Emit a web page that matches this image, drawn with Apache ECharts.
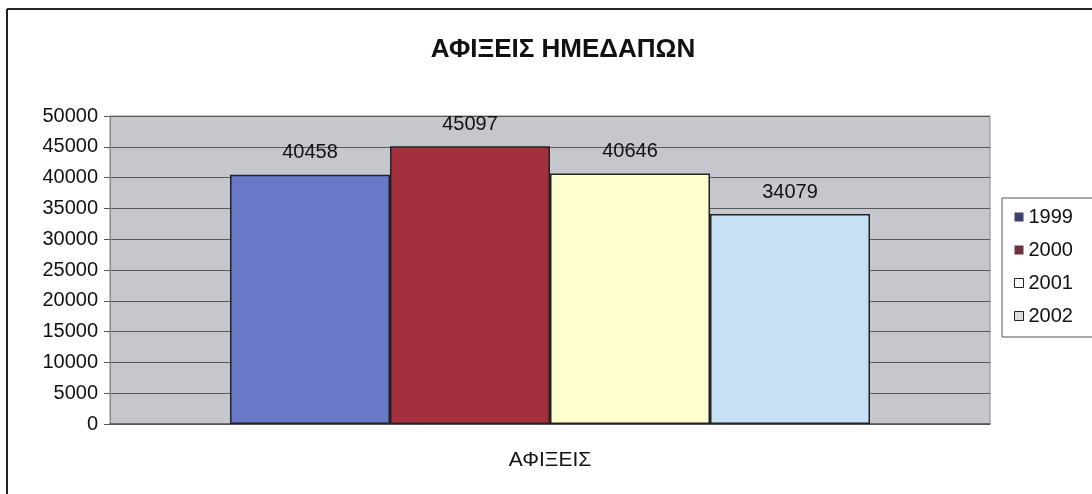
<!DOCTYPE html>
<html>
<head>
<meta charset="utf-8">
<title>ΑΦΙΞΕΙΣ ΗΜΕΔΑΠΩΝ</title>
<script src="https://cdn.jsdelivr.net/npm/echarts@6/dist/echarts.min.js"></script>
<style>
  html, body { margin: 0; padding: 0; background: #fff; }
  #chart { width: 1092px; height: 494px; }
</style>
</head>
<body>
<div id="chart"></div>
<script>
// data
var categories = ["ΑΦΙΞΕΙΣ"];
var years = ["1999", "2000", "2001", "2002"];
var arrivals = [40458, 45097, 40646, 34079];
var yTicks = { min: 0, max: 50000, interval: 5000 };

var barColors = ["#6a78c8", "#a3303f", "#ffffcf", "#c7e0f5"];
var legendColors = ["#3b3f6c", "#6a3340", "#ffffff", "#dcdcdc"];

var chart = echarts.init(document.getElementById("chart"));

var series = [];
years.map(function (y, i) {
  series.push({
    type: "bar",
    name: y,
    data: [arrivals[i]],
    barWidth: 160,
    barGap: "0%",
    itemStyle: {
      color: barColors[i],
      borderColor: "#222",
      borderWidth: 1.5,
    },
    label: {
      show: true,
      position: "top",
      distance: 12,
      color: "#111",
      fontSize: 20,
      fontFamily: "Liberation Sans, Arial, sans-serif",
    },
  });
});

var legendData = years.map(function (y, i) {
  return {
    name: y,
    itemStyle: {
      color: legendColors[i],
      borderColor: "#222",
      borderWidth: i >= 2 ? 1 : 0,
    },
  };
});

var option = {
  animation: false,
  backgroundColor: "#fff",
  title: {
    text: "ΑΦΙΞΕΙΣ ΗΜΕΔΑΠΩΝ",
    left: 558,
    textAlign: "center",
    top: 32,
    textStyle: {
      fontSize: 26,
      fontWeight: "bold",
      color: "#111",
      fontFamily: "Liberation Sans Narrow, Liberation Sans, Arial, sans-serif",
    },
  },
  legend: {
    orient: "vertical",
    left: 1002,
    top: 198,
    padding: [8, 30, 10, 12],
    borderColor: "#555",
    borderWidth: 1,
    icon: "rect",
    itemWidth: 9,
    itemHeight: 9,
    itemGap: 11,
    data: legendData,
    textStyle: {
      fontSize: 20,
      lineHeight: 22,
      color: "#111",
      fontFamily: "Liberation Sans, Arial, sans-serif",
    },
  },
  grid: {
    left: 110,
    right: 102,
    top: 116,
    bottom: 70,
    show: true,
    backgroundColor: "#c5c7cd",
    borderColor: "#8a8a90",
    borderWidth: 1,
  },
  xAxis: {
    type: "category",
    data: categories,
    axisTick: { show: false },
    axisLine: { lineStyle: { color: "#555", width: 1.5 } },
    axisLabel: {
      margin: 26,
      fontSize: 21,
      color: "#111",
      fontFamily: "Liberation Sans, Arial, sans-serif",
    },
  },
  yAxis: {
    type: "value",
    min: yTicks.min,
    max: yTicks.max,
    interval: yTicks.interval,
    axisLine: { show: true, lineStyle: { color: "#888" } },
    axisTick: { show: true, length: 6, lineStyle: { color: "#555" } },
    splitLine: { lineStyle: { color: "#5a5a5e", width: 1 } },
    axisLabel: {
      margin: 12,
      fontSize: 20,
      color: "#111",
      fontFamily: "Liberation Sans, Arial, sans-serif",
      formatter: function (v) {
        return String(v); // no thousands separator
      },
    },
  },
  // frame of the scanned chart
  graphic: [
    {
      type: "line",
      shape: { x1: 7, y1: 9, x2: 7, y2: 494 },
      style: { stroke: "#222", lineWidth: 2 },
    },
    {
      type: "line",
      shape: { x1: 7, y1: 9, x2: 1092, y2: 9 },
      style: { stroke: "#222", lineWidth: 2 },
    },
  ],
  series: series,
};

chart.setOption(option);
</script>
</body>
</html>
